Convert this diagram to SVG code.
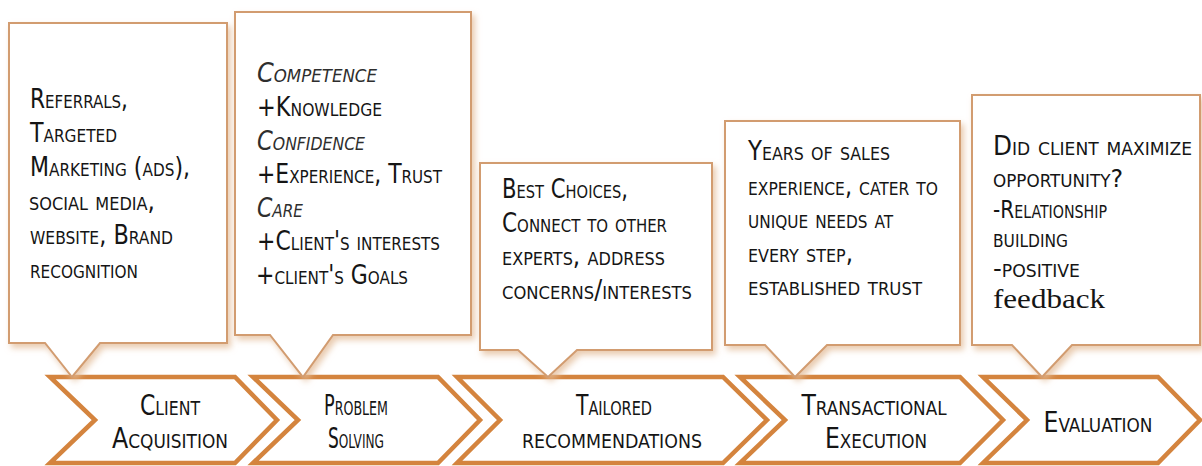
<svg xmlns="http://www.w3.org/2000/svg" width="1202" height="466" viewBox="0 0 1202 466">
  <defs>
    <filter id="softShadow" x="-10%" y="-10%" width="125%" height="125%">
      <feDropShadow dx="3" dy="4" stdDeviation="3" flood-color="#e2b994" flood-opacity="0.75"/>
    </filter>
  </defs>
  <style>
    .callout { fill: #ffffff; stroke: #d29c70; stroke-width: 2; stroke-linejoin: miter; filter: url(#softShadow); }
    .chev { fill: #ffffff; stroke: #d4843e; stroke-width: 4.5; stroke-linejoin: miter; }
    .note { font-family: "Liberation Sans Narrow", "DejaVu Sans Condensed", "Liberation Sans", sans-serif; font-size: 26px; font-variant: small-caps; fill: #151515; }
    .note.it { font-style: italic; fill: #2e2e2e; }
    .small { font-size: 24px; }
    .serif { font-family: "Liberation Serif", "DejaVu Serif", serif; font-size: 28px; font-variant: normal; }
    .step { font-family: "Liberation Sans Narrow", "DejaVu Sans Condensed", "Liberation Sans", sans-serif; font-size: 28px; font-variant: small-caps; fill: #151515; text-anchor: middle; }
  </style>

  <rect width="1202" height="466" fill="#ffffff"/>

  <!-- process steps: chevron band -->
  <g id="connectors">
    <g id="step-acquisition">
      <polygon class="chev" points="50,377 235,377 277,420 235,463 50,463 95,420"/>
      <text class="step" x="170" y="415" textLength="60" lengthAdjust="spacingAndGlyphs">Client</text>
      <text class="step" x="170" y="448" textLength="116" lengthAdjust="spacingAndGlyphs">Acquisition</text>
    </g>
    <g id="step-problem">
      <polygon class="chev" points="253,377 438,377 480,420 438,463 253,463 298,420"/>
      <text class="step" x="356" y="415" textLength="64" lengthAdjust="spacingAndGlyphs">Problem</text>
      <text class="step" x="356" y="448" textLength="56" lengthAdjust="spacingAndGlyphs">Solving</text>
    </g>
    <g id="step-tailored">
      <polygon class="chev" points="457,377 723,377 767,420 723,463 457,463 500,420"/>
      <text class="step" x="614" y="415" textLength="76" lengthAdjust="spacingAndGlyphs">Tailored</text>
      <text class="step" x="612" y="448" textLength="180" lengthAdjust="spacingAndGlyphs">recommendations</text>
    </g>
    <g id="step-transactional">
      <polygon class="chev" points="740,377 960,377 1003,420 960,463 740,463 785,420"/>
      <text class="step" x="874" y="415" textLength="145" lengthAdjust="spacingAndGlyphs">Transactional</text>
      <text class="step" x="876" y="448" textLength="102" lengthAdjust="spacingAndGlyphs">Execution</text>
    </g>
    <g id="step-evaluation">
      <polygon class="chev" points="983,377 1158,377 1200,420 1158,463 983,463 1027,420"/>
      <text class="step" x="1098" y="432" textLength="109" lengthAdjust="spacingAndGlyphs">Evaluation</text>
    </g>
  </g>

  <!-- callout 1 -->
  <g id="note-acquisition">
    <path class="callout" d="M9,23 H227 V343 H100 L72,377 L45,343 H9 Z"/>
    <text class="note" x="30" y="108" textLength="98" lengthAdjust="spacingAndGlyphs">Referrals,</text>
    <text class="note" x="30" y="142" textLength="87" lengthAdjust="spacingAndGlyphs">Targeted</text>
    <text class="note" x="30" y="176" textLength="160" lengthAdjust="spacingAndGlyphs">Marketing (ads),</text>
    <text class="note" x="29" y="210" textLength="126" lengthAdjust="spacingAndGlyphs">social media,</text>
    <text class="note" x="30" y="244" textLength="143" lengthAdjust="spacingAndGlyphs">website, Brand</text>
    <text class="note" x="30" y="278" textLength="108" lengthAdjust="spacingAndGlyphs">recognition</text>
  </g>

  <!-- callout 2 -->
  <g id="note-problem">
    <path class="callout" d="M235,12 H471 V335 H333 L303,377 L270,335 H235 Z"/>
    <text class="note it" x="257" y="82" textLength="120" lengthAdjust="spacingAndGlyphs">Competence</text>
    <text class="note" x="257" y="116" textLength="125" lengthAdjust="spacingAndGlyphs">+Knowledge</text>
    <text class="note it" x="257" y="150" textLength="108" lengthAdjust="spacingAndGlyphs">Confidence</text>
    <text class="note" x="257" y="183" textLength="185" lengthAdjust="spacingAndGlyphs">+Experience, Trust</text>
    <text class="note it" x="257" y="217" textLength="46" lengthAdjust="spacingAndGlyphs">Care</text>
    <text class="note" x="257" y="250" textLength="183" lengthAdjust="spacingAndGlyphs">+Client's interests</text>
    <text class="note" x="256" y="284" textLength="152" lengthAdjust="spacingAndGlyphs">+client's Goals</text>
  </g>

  <!-- callout 3 -->
  <g id="note-tailored">
    <path class="callout" d="M480,163 H712 V350 H577 L548,377 L518,350 H480 Z"/>
    <text class="note" x="502" y="198" textLength="126" lengthAdjust="spacingAndGlyphs">Best Choices,</text>
    <text class="note" x="502" y="232" textLength="165" lengthAdjust="spacingAndGlyphs">Connect to other</text>
    <text class="note" x="502" y="265" textLength="163" lengthAdjust="spacingAndGlyphs">experts, address</text>
    <text class="note" x="502" y="299" textLength="190" lengthAdjust="spacingAndGlyphs">concerns/interests</text>
  </g>

  <!-- callout 4 -->
  <g id="note-transactional">
    <path class="callout" d="M725,121 H960 V345 H827 L795,377 L765,345 H725 Z"/>
    <text class="note" x="748" y="160" textLength="142" lengthAdjust="spacingAndGlyphs">Years of sales</text>
    <text class="note" x="748" y="195" textLength="190" lengthAdjust="spacingAndGlyphs">experience, cater to</text>
    <text class="note" x="748" y="228" textLength="145" lengthAdjust="spacingAndGlyphs">unique needs at</text>
    <text class="note" x="748" y="262" textLength="105" lengthAdjust="spacingAndGlyphs">every step,</text>
    <text class="note" x="748" y="295" textLength="174" lengthAdjust="spacingAndGlyphs">established trust</text>
  </g>

  <!-- callout 5 -->
  <g id="note-evaluation">
    <path class="callout" d="M972,95 H1200 V345 H1072 L1042,377 L1012,345 H972 Z"/>
    <text class="note" x="993" y="155" textLength="199" lengthAdjust="spacingAndGlyphs">Did client maximize</text>
    <text class="note small" x="993" y="187" textLength="130" lengthAdjust="spacingAndGlyphs">opportunity?</text>
    <text class="note small" x="993" y="218" textLength="114" lengthAdjust="spacingAndGlyphs">-Relationship</text>
    <text class="note small" x="993" y="247" textLength="75" lengthAdjust="spacingAndGlyphs">building</text>
    <text class="note small" x="993" y="277" textLength="87" lengthAdjust="spacingAndGlyphs">-positive</text>
    <text class="note serif" x="993" y="308" textLength="112" lengthAdjust="spacingAndGlyphs">feedback</text>
  </g>
</svg>
